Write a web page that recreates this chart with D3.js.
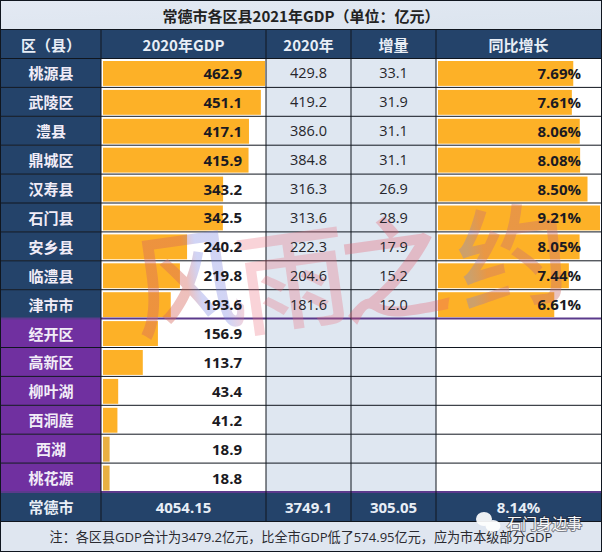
<!DOCTYPE html>
<html>
<head>
<meta charset="utf-8">
<script src="https://cdn.jsdelivr.net/npm/d3@7"></script>
<style>
  html, body { margin: 0; padding: 0; background: #fff; }
  svg { display: block; }
  text { font-family: "Noto Sans CJK SC", "Open Sans", sans-serif; }
  .num { font-family: "Open Sans", "Noto Sans CJK SC", sans-serif; }
</style>
</head>
<body>
<div id="chart"></div>
<script>
const titleText = '常德市各区县2021年GDP（单位：亿元）';
const noteText = '注：各区县GDP合计为3479.2亿元，比全市GDP低了574.95亿元，应为市本级部分GDP';
const headers = ['区（县）', '2020年GDP', '2020年', '增量', '同比增长'];
const districts = ['桃源县', '武陵区', '澧县', '鼎城区', '汉寿县', '石门县', '安乡县', '临澧县', '津市市',
  '经开区', '高新区', '柳叶湖', '西洞庭', '西湖', '桃花源'];
const gdp2021 = [462.9, 451.1, 417.1, 415.9, 343.2, 342.5, 240.2, 219.8, 193.6, 156.9, 113.7, 43.4, 41.2, 18.9, 18.8];
const gdp2020 = ['429.8', '419.2', '386.0', '384.8', '316.3', '313.6', '222.3', '204.6', '181.6'];
const increase = ['33.1', '31.9', '31.1', '31.1', '26.9', '28.9', '17.9', '15.2', '12.0'];
const growth = [7.69, 7.61, 8.06, 8.08, 8.50, 9.21, 8.05, 7.44, 6.61];
const totals = ['常德市', '4054.15', '3749.1', '305.05', '8.14%'];

const width = 602, height = 552;
const colEdges = [1, 101, 266, 351, 436, 601];
const rowTop = 58.5, rowH = 28.9;

const svg = d3.select('#chart').append('svg')
  .attr('width', width).attr('height', height);

const defs = svg.append('defs');
const grad = defs.append('linearGradient').attr('id', 'bgPale')
  .attr('x1', 0).attr('x2', 1).attr('y1', 0).attr('y2', 1);
grad.append('stop').attr('offset', 0).attr('stop-color', '#e3e9f3');
grad.append('stop').attr('offset', 1).attr('stop-color', '#dbe4ee');

// watermark colours drift red to blue inside a character
const windGrad = defs.append('linearGradient').attr('id', 'markWind');
windGrad.append('stop').attr('offset', 0.5).attr('stop-color', 'rgba(215,105,95,0.42)');
windGrad.append('stop').attr('offset', 0.62).attr('stop-color', 'rgba(120,130,225,0.34)');
windGrad.append('stop').attr('offset', 0.82).attr('stop-color', 'rgba(120,130,225,0.34)');
windGrad.append('stop').attr('offset', 1).attr('stop-color', 'rgba(235,110,125,0.3)');
const yueGrad = defs.append('linearGradient').attr('id', 'markYue');
yueGrad.append('stop').attr('offset', 0.1).attr('stop-color', 'rgba(120,130,225,0.36)');
yueGrad.append('stop').attr('offset', 0.25).attr('stop-color', 'rgba(205,115,110,0.42)');

const y = d3.scaleBand().domain(d3.range(districts.length))
  .range([rowTop, rowTop + rowH * districts.length]);
const xGdp = d3.scaleLinear().domain([0, 462.9]).range([103, 265]);
const xGrowth = d3.scaleLinear().domain([0, 9.21]).range([438, 600]);

const totalTop = rowTop + rowH * districts.length + 0.5;
const noteTop = totalTop + 29;

// backgrounds
svg.append('rect').attr('x', 0).attr('y', 0).attr('width', width).attr('height', height).attr('fill', '#dfe6f0');
svg.append('rect').attr('x', 1).attr('y', 1).attr('width', 600).attr('height', 28.5).attr('fill', 'url(#bgPale)');
svg.append('rect').attr('x', 1).attr('y', 29.5).attr('width', 600).attr('height', 29).attr('fill', '#24436a');
svg.append('rect').attr('x', 1).attr('y', totalTop).attr('width', 600).attr('height', 29).attr('fill', '#24436a');

// first column
svg.selectAll('rect.name').data(districts).join('rect')
  .attr('class', 'name')
  .attr('x', colEdges[0]).attr('width', colEdges[1] - colEdges[0])
  .attr('y', (d, i) => y(i)).attr('height', y.bandwidth())
  .attr('fill', (d, i) => i < 9 ? '#24436a' : '#7030a0');

// value column backgrounds
svg.append('rect').attr('x', colEdges[1]).attr('y', rowTop).attr('width', colEdges[2] - colEdges[1])
  .attr('height', totalTop - rowTop).attr('fill', '#fff');
svg.append('rect').attr('x', colEdges[2]).attr('y', rowTop).attr('width', colEdges[4] - colEdges[2])
  .attr('height', totalTop - rowTop).attr('fill', '#dfe7f1');
svg.append('rect').attr('x', colEdges[4]).attr('y', rowTop).attr('width', colEdges[5] - colEdges[4])
  .attr('height', totalTop - rowTop).attr('fill', '#fff');

// bars
svg.selectAll('rect.gdp').data(gdp2021).join('rect')
  .attr('class', 'gdp')
  .attr('x', xGdp(0)).attr('width', d => xGdp(d) - xGdp(0))
  .attr('y', (d, i) => y(i) + 2.5).attr('height', y.bandwidth() - 4)
  .attr('fill', (d, i) => i > 12 ? '#e8b042' : '#fdb127');
svg.selectAll('rect.growth').data(growth).join('rect')
  .attr('class', 'growth')
  .attr('x', xGrowth(0)).attr('width', d => xGrowth(d) - xGrowth(0))
  .attr('y', (d, i) => y(i) + 2.5).attr('height', y.bandwidth() - 4)
  .attr('fill', '#fdb127');

// grid lines
const hLines = d3.range(districts.length + 1).map(i => rowTop + rowH * i);
svg.selectAll('line.h').data(hLines).join('line')
  .attr('class', 'h')
  .attr('x1', 0).attr('x2', width).attr('y1', d => d).attr('y2', d => d)
  .attr('stroke', (d, i) => i === 9 || i === 15 ? '#5b3a8c' : '#10161f')
  .attr('stroke-width', (d, i) => i === 9 || i === 15 ? 2 : 1);
svg.selectAll('line.v').data(colEdges.slice(1, 5)).join('line')
  .attr('class', 'v')
  .attr('x1', d => d).attr('x2', d => d).attr('y1', 29.5).attr('y2', noteTop)
  .attr('stroke', '#10161f');
[29.5, noteTop].forEach(v => {
  svg.append('line').attr('x1', 0).attr('x2', width).attr('y1', v).attr('y2', v).attr('stroke', '#10161f');
});
svg.append('rect').attr('x', 0.5).attr('y', 0.5).attr('width', width - 1).attr('height', height - 1)
  .attr('fill', 'none').attr('stroke', '#10161f');

const cx = i => (colEdges[i] + colEdges[i + 1]) / 2;

// watermark
const marks = [
  { t: '风', x: 186, y: 276, c: 'url(#markWind)' },
  { t: '雨', x: 292, y: 272, c: 'rgba(235,110,125,0.3)' },
  { t: '之', x: 392, y: 262, c: 'rgba(230,90,110,0.32)' },
  { t: '约', x: 512, y: 250, c: 'url(#markYue)' }
];
svg.selectAll('text.mark').data(marks).join('text')
  .attr('class', 'mark')
  .attr('transform', d => `translate(${d.x},${d.y}) rotate(-8)`)
  .attr('text-anchor', 'middle').attr('dominant-baseline', 'central')
  .attr('font-size', 112).attr('font-weight', 500)
  .attr('fill', d => d.c)
  .text(d => d.t);

// header + title
svg.append('text').attr('x', 301).attr('y', 15).attr('text-anchor', 'middle').attr('dominant-baseline', 'central')
  .attr('font-size', 15).attr('font-weight', 700).attr('fill', '#222').text(titleText);
svg.selectAll('text.head').data(headers).join('text')
  .attr('class', 'head')
  .attr('x', (d, i) => cx(i)).attr('y', 44)
  .attr('text-anchor', 'middle').attr('dominant-baseline', 'central')
  .attr('font-size', 15).attr('font-weight', 700).attr('fill', '#e8eef6')
  .text(d => d);

// row labels
svg.selectAll('text.name').data(districts).join('text')
  .attr('class', 'name')
  .attr('x', cx(0)).attr('y', (d, i) => y(i) + rowH / 2)
  .attr('text-anchor', 'middle').attr('dominant-baseline', 'central')
  .attr('font-size', 15).attr('font-weight', 700).attr('fill', '#f1ecf7')
  .text(d => d);

// values
svg.selectAll('text.gdpv').data(gdp2021).join('text')
  .attr('class', 'gdpv num')
  .attr('x', 242).attr('y', (d, i) => y(i) + rowH / 2)
  .attr('text-anchor', 'end').attr('dominant-baseline', 'central')
  .attr('font-size', 15).attr('font-weight', 700).attr('fill', '#1a1a22')
  .text(d => d.toFixed(1));
svg.selectAll('text.y20').data(gdp2020).join('text')
  .attr('class', 'y20 num')
  .attr('x', cx(2)).attr('y', (d, i) => y(i) + rowH / 2)
  .attr('text-anchor', 'middle').attr('dominant-baseline', 'central')
  .attr('font-size', 14.5).attr('fill', '#26262c')
  .text(d => d);
svg.selectAll('text.inc').data(increase).join('text')
  .attr('class', 'inc num')
  .attr('x', cx(3)).attr('y', (d, i) => y(i) + rowH / 2)
  .attr('text-anchor', 'middle').attr('dominant-baseline', 'central')
  .attr('font-size', 14.5).attr('fill', '#26262c')
  .text(d => d);
svg.selectAll('text.gr').data(growth).join('text')
  .attr('class', 'gr num')
  .attr('x', 581).attr('y', (d, i) => y(i) + rowH / 2)
  .attr('text-anchor', 'end').attr('dominant-baseline', 'central')
  .attr('font-size', 15).attr('font-weight', 700).attr('fill', '#1a1a22')
  .text(d => d.toFixed(2) + '%');

// totals
svg.selectAll('text.tot').data(totals).join('text')
  .attr('class', 'tot num')
  .attr('x', (d, i) => cx(i)).attr('y', totalTop + 14.5)
  .attr('text-anchor', 'middle').attr('dominant-baseline', 'central')
  .attr('font-size', 15).attr('font-weight', 700).attr('fill', '#e8eef6')
  .text(d => d);

// note
svg.append('text').attr('class', 'num').attr('x', 301).attr('y', noteTop + 15)
  .attr('text-anchor', 'middle').attr('dominant-baseline', 'central')
  .attr('font-size', 13.1).attr('fill', '#2a2a30').text(noteText);

// wechat credit, sits over the note in the source too
const logo = svg.append('g').attr('fill', '#fff').attr('opacity', 0.92);
logo.append('ellipse').attr('cx', 484).attr('cy', 519).attr('rx', 8).attr('ry', 7);
logo.append('ellipse').attr('cx', 493).attr('cy', 526).attr('rx', 7.5).attr('ry', 6);
svg.append('text').attr('x', 507).attr('y', 522).attr('dominant-baseline', 'central')
  .attr('font-size', 15).attr('fill', '#fafafa').attr('stroke', 'rgba(40,40,50,0.55)').attr('stroke-width', 2)
  .attr('paint-order', 'stroke').text('石门身边事');
</script>
</body>
</html>
